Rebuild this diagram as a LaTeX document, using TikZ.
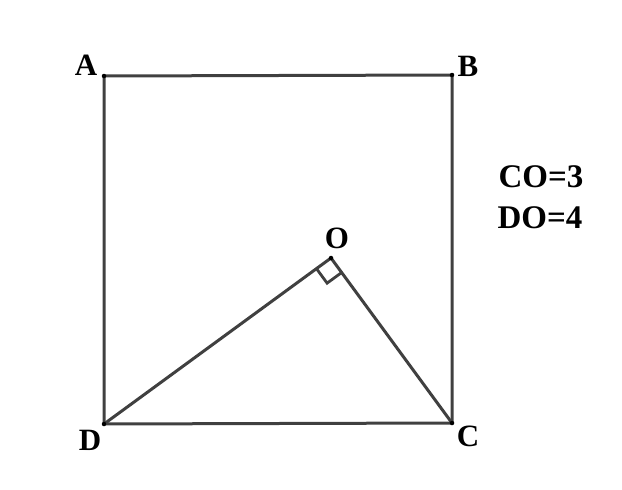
\documentclass[tikz,border=0pt]{standalone}
\usepackage{fontspec}
\setmainfont{Liberation Serif}
\usetikzlibrary{calc}
\definecolor{edge}{HTML}{404040}
\tikzset{
  seg/.style={draw=edge, line width=3pt},
  lbl/.style={font=\fontsize{31}{34}\selectfont\bfseries, inner sep=0pt},
  txt/.style={font=\fontsize{33}{36}\selectfont\bfseries, inner sep=0pt},
  vdot/.style={circle, fill=black, inner sep=0pt, minimum size=4.5pt}
}
\begin{document}
\begin{tikzpicture}[x=1pt,y=-1pt]
\useasboundingbox (0,0) rectangle (622,490);
\coordinate (A) at (104,76);
\coordinate (B) at (452,75);
\coordinate (C) at (452,423);
\coordinate (D) at (104,424);
\coordinate (O) at (331,258);
\draw[seg] (A) -- (B) -- (C) -- (D) -- cycle;
\draw[seg] (D) -- (O) -- (C);
\coordinate (P1) at ($(O)!18pt!(D)$);
\coordinate (P2) at ($(O)!18pt!(C)$);
\coordinate (P3) at ($(P1)+(P2)-(O)$);
\draw[seg, line width=2.8pt] (P1) -- (P3) -- (P2);
\foreach \p in {A,B,C,D,O} \node[vdot] at (\p) {};
\node[lbl] (lA) at (86,65) {A};
\node[lbl] (lB) at (468,66) {B};
\node[lbl] (lC) at (468,436) {C};
\node[lbl] (lD) at (90,440) {D};
\node[lbl] (lO) at (337,238) {O};
\node[txt] (t1) at (541,177) {CO=3};
\node[txt] (t2) at (540,218) {DO=4};
\end{tikzpicture}
\end{document}
